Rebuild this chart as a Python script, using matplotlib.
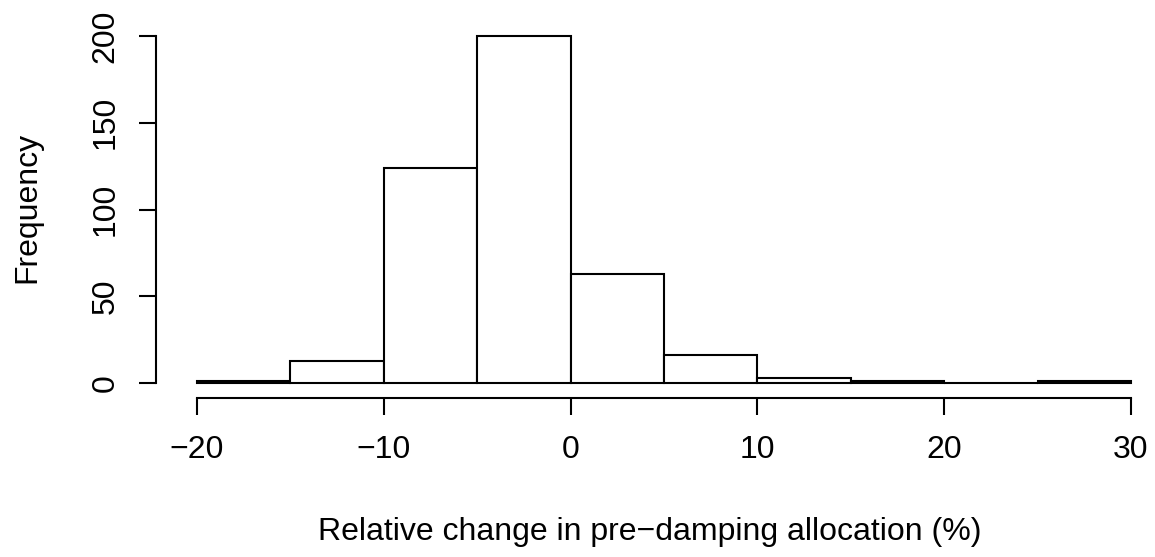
import matplotlib
matplotlib.use('Agg')
import matplotlib.pyplot as plt
import numpy as np

# --- data ---
bin_edges = [-20, -15, -10, -5, 0, 5, 10, 15, 20, 25, 30]
counts = [1, 13, 124, 200, 63, 16, 3, 1, 0, 1]
x_ticks = [-20, -10, 0, 10, 20, 30]
y_ticks = [0, 50, 100, 150, 200]

plt.rcParams['font.family'] = ['Liberation Sans', 'DejaVu Sans']
FS = 23

W, H = 1155, 557
fig = plt.figure(figsize=(W / 100, H / 100), dpi=100)

# axes placed in pixel terms to match the R layout
left_px, right_px = 155.7, 1155
top_px, bot_px = 22.1, 397.0
ax = fig.add_axes([left_px / W, 1 - bot_px / H, (right_px - left_px) / W, (bot_px - top_px) / H])

px_per_x = (1131 - 197) / 50.0
xmin = -20 - (197 - left_px) / px_per_x
xmax = xmin + (right_px - left_px) / px_per_x
ax.set_xlim(xmin, xmax)
ax.set_ylim(-8, 208)

lefts = np.array(bin_edges[:-1])
widths = np.diff(bin_edges)
ax.bar(lefts, counts, width=widths, align='edge', facecolor='white',
       edgecolor='black', linewidth=1.5, clip_on=False)

for s in ['top', 'right']:
    ax.spines[s].set_visible(False)
ax.spines['bottom'].set_bounds(-20, 30)
ax.spines['left'].set_bounds(0, 200)
ax.spines['bottom'].set_position(('outward', 1))
for s in ['bottom', 'left']:
    ax.spines[s].set_linewidth(1.5)

ax.set_xticks(x_ticks)
ax.set_xticklabels([f"{v}".replace('-', '\u2212') for v in x_ticks])
ax.set_yticks(y_ticks)
ax.set_yticklabels([str(v) for v in y_ticks], rotation=90, va='center')
ax.tick_params(axis='both', length=12.5, width=1.5, labelsize=FS)
ax.tick_params(axis='x', pad=14)
ax.tick_params(axis='y', pad=13)

fig.text(650 / W, 1 - 540 / H, "Relative change in pre\u2212damping allocation (%)",
         fontsize=FS, ha='center', va='baseline')
fig.text(27 / W, 1 - 207.5 / H, "Frequency", fontsize=FS, rotation=90,
         ha='center', va='center')

fig.savefig('out.png', dpi=100)
